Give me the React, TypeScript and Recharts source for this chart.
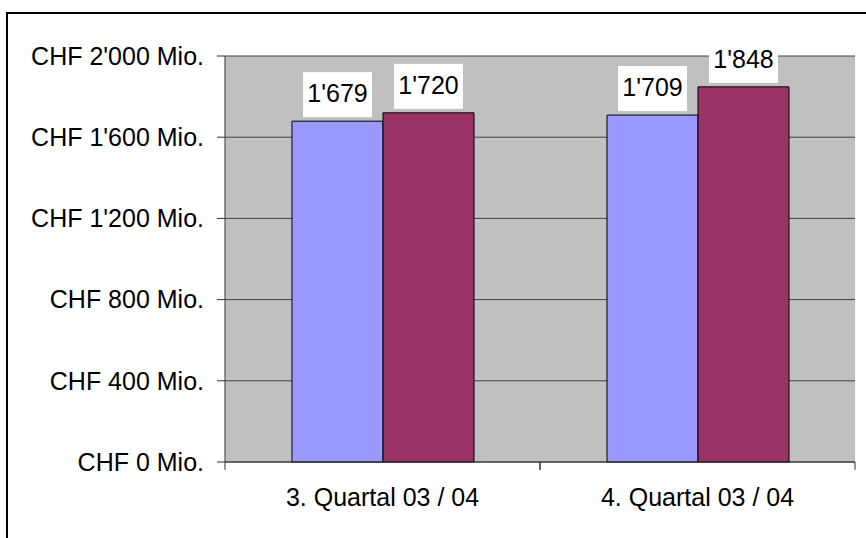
import { Bar, BarChart, CartesianGrid, LabelList, XAxis, YAxis } from "recharts";

const categories = ["3. Quartal 03 / 04", "4. Quartal 03 / 04"];
const seriesA = [1679, 1709];
const seriesB = [1720, 1848];
const yTicks = [0, 400, 800, 1200, 1600, 2000];

const data = categories.map((name, i) => ({ name, a: seriesA[i], b: seriesB[i] }));

const FONT = "'Liberation Sans', Arial, sans-serif";

// 1679 -> 1'679
const swiss = (v: number) =>
  v >= 1000 ? `${Math.floor(v / 1000)}'${String(v % 1000).padStart(3, "0")}` : String(v);

const ValueLabel = (props: any) => {
  const { x, y, width, value } = props;
  const cx = x + width / 2;
  const top = y - 4 - 45;
  return (
    <g>
      <rect x={cx - 34.5} y={top} width={69} height={45} fill="#fff" />
      <text x={cx} y={top + 21} textAnchor="middle" dominantBaseline="central" fontSize={25} fontFamily={FONT} fill="#000">
        {swiss(value)}
      </text>
    </g>
  );
};

const CategoryTick = (props: any) => {
  const { x, y, payload } = props;
  const half = payload.offset || 157.5;
  return (
    <g>
      <line x1={x - half} x2={x - half} y1={y} y2={y + 8} stroke="#333" />
      <line x1={x + half} x2={x + half} y1={y} y2={y + 8} stroke="#333" />
      <text x={x} y={y + 35} textAnchor="middle" dominantBaseline="central" fontSize={25} fontFamily={FONT} fill="#000">
        {payload.value}
      </text>
    </g>
  );
};

export default function App() {
  return (
    <div style={{ position: "fixed", left: 0, top: 0, width: 866, height: 538, overflow: "hidden", background: "#fff" }}>
      <div style={{ position: "absolute", left: 6, top: 12, width: 900, height: 600, border: "2px solid #000" }} />
      <div style={{ position: "absolute", left: 0, top: 0 }}>
        <BarChart
          width={866}
          height={538}
          data={data}
          margin={{ top: 56, right: 11, bottom: 46, left: 0 }}
          barGap={0}
          barSize={91}
        >
          <CartesianGrid vertical={false} fill="#C0C0C0" stroke="#404040" />
          <XAxis
            dataKey="name"
            height={30}
            axisLine={{ stroke: "#333" }}
            tickLine={false}
            tickSize={0}
            tickMargin={0}
            tick={<CategoryTick />}
            interval={0}
          />
          <YAxis
            width={225}
            domain={[0, 2000]}
            ticks={yTicks}
            interval={0}
            axisLine={{ stroke: "#333" }}
            tickLine={{ stroke: "#333" }}
            tickSize={8}
            tickMargin={13}
            tick={{ fill: "#000", fontSize: 25, fontFamily: FONT }}
            tickFormatter={(v: number) => `CHF ${swiss(v)} Mio.`}
          />
          <YAxis
            yAxisId="r"
            orientation="right"
            width={0}
            tick={false}
            tickLine={false}
            axisLine={{ stroke: "#808080" }}
          />
          <Bar dataKey="a" name="Serie 1" fill="#9999FF" stroke="#000" strokeWidth={1} isAnimationActive={false}>
            <LabelList dataKey="a" content={<ValueLabel />} />
          </Bar>
          <Bar dataKey="b" name="Serie 2" fill="#993366" stroke="#000" strokeWidth={1} isAnimationActive={false}>
            <LabelList dataKey="b" content={<ValueLabel />} />
          </Bar>
        </BarChart>
      </div>
    </div>
  );
}
